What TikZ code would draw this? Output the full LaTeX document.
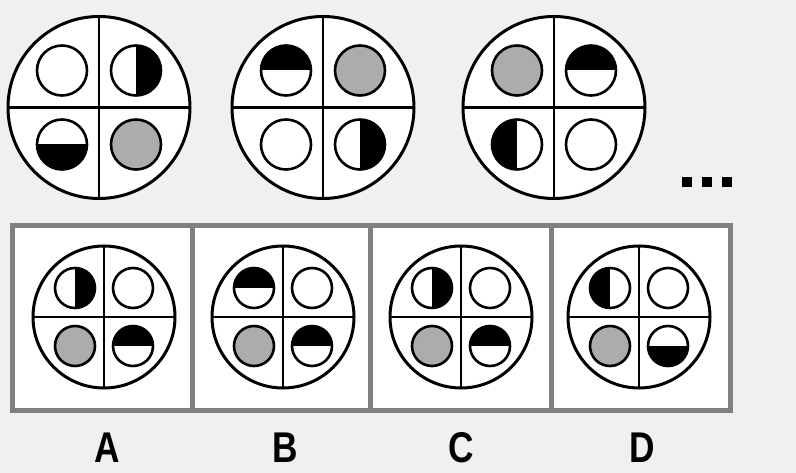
\documentclass[tikz,border=0pt]{standalone}
\usepackage{fontspec}
\setmainfont{Liberation Sans}
\definecolor{bgc}{RGB}{240,240,240}
\definecolor{framec}{RGB}{128,128,128}
\definecolor{discgray}{RGB}{172,172,172}
\tikzset{
  bigring/.style={draw=black, fill=white, line width=3},
  crossline/.style={draw=black, line width=2.4},
  smallring/.style={draw=black, line width=2.6},
  panelframe/.style={draw=framec, line width=5},
  optlabel/.style={font=\fontsize{43}{43}\selectfont\bfseries, xscale=0.82, inner sep=0},
  dotsq/.style={fill=black}
}
% #1 x, #2 y, #3 r, #4 type: 0 empty, 1 gray, 2 right half, 3 left half, 4 top half, 5 bottom half
\newcommand\mydisc[4]{%
  \begin{scope}
    \clip (#1,#2) circle[radius=#3];
    \fill[white] (#1,#2) circle[radius=#3];
    \ifcase#4\relax
    \or \fill[discgray] (#1,#2) circle[radius=#3];
    \or \fill[black] (#1,#2) ++(0,-#3) rectangle ++(#3,2*#3);
    \or \fill[black] (#1,#2) ++(-#3,-#3) rectangle ++(#3,2*#3);
    \or \fill[black] (#1,#2) ++(-#3,-#3) rectangle ++(2*#3,#3);
    \or \fill[black] (#1,#2) ++(-#3,0) rectangle ++(2*#3,#3);
    \fi
  \end{scope}
  \draw[smallring] (#1,#2) circle[radius=#3];}
% #1 cx #2 cy #3 R #4 d #5 r #6 TL #7 TR #8 BL #9 BR
\newcommand\mywheel[9]{%
  \draw[bigring] (#1,#2) circle[radius=#3];
  \draw[crossline] (#1,#2) ++(0,-#3) -- ++(0,2*#3);
  \draw[crossline] (#1,#2) ++(-#3,0) -- ++(2*#3,0);
  \mydisc{#1-#4}{#2-#4}{#5}{#6}
  \mydisc{#1+#4}{#2-#4}{#5}{#7}
  \mydisc{#1-#4}{#2+#4}{#5}{#8}
  \mydisc{#1+#4}{#2+#4}{#5}{#9}}
\begin{document}
\begin{tikzpicture}[x=1pt,y=-1pt]
  \useasboundingbox (0,0) rectangle (796,473);
  \fill[bgc] (0,0) rectangle (796,473);
  % top row
  \mywheel{99}{107.5}{91}{37}{25}{0}{2}{5}{1}
  \mywheel{323}{107.5}{91}{37}{25}{4}{1}{0}{2}
  \mywheel{554}{107.5}{91}{37}{25}{1}{4}{3}{0}
  % dots
  \fill[dotsq] (682,177) rectangle (692,187);
  \fill[dotsq] (702,177) rectangle (712,187);
  \fill[dotsq] (722,177) rectangle (732,187);
  % option panels
  \fill[white] (12,225.5) rectangle (730,410);
  \draw[panelframe] (12,225.5) rectangle (730,410);
  \draw[panelframe] (192,225.5) -- (192,410);
  \draw[panelframe] (370,225.5) -- (370,410);
  \draw[panelframe] (551,225.5) -- (551,410);
  \mywheel{104}{317}{71}{29}{20}{2}{0}{1}{4}
  \mywheel{283}{317}{71}{29}{20}{4}{0}{1}{4}
  \mywheel{461}{317}{71}{29}{20}{2}{0}{1}{4}
  \mywheel{639}{317}{71}{29}{20}{3}{0}{1}{5}
  % labels
  \node[optlabel] (la) at (107,448) {A};
  \node[optlabel] (lb) at (285,448) {B};
  \node[optlabel] (lc) at (461,448) {C};
  \node[optlabel] (ld) at (642,448) {D};
\end{tikzpicture}
\end{document}
